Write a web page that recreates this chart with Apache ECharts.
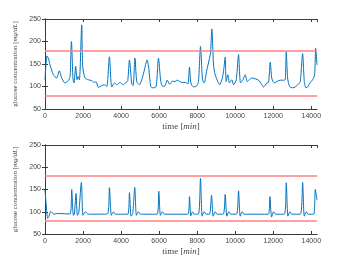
<!DOCTYPE html>
<html><head><meta charset="utf-8">
<script src="https://cdn.jsdelivr.net/npm/echarts@6/dist/echarts.min.js"></script>
<style>html,body{margin:0;padding:0;background:#fff}#c{width:350px;height:263px}</style>
</head><body><div id="c"></div>
<script>
const xTicks = [0, 2000, 4000, 6000, 8000, 10000, 12000, 14000];
const yTicks = [50, 100, 150, 200, 250];
const upperLimit = 180;
const lowerLimit = 80;

const topTimes = [0,105,175,263,440,615,754,877,1050,1228,1316,1390,1474,1526,1614,1684,1737,1807,1930,1982,2105,2280,2456,2596,2684,2807,2982,3123,3246,3386,3509,3649,3772,3947,4088,4263,4350,4439,4561,4631,4730,4825,4965,5088,5210,5370,5456,5561,5702,5842,5965,6088,6193,6316,6420,6560,6700,6842,6930,7018,7193,7368,7509,7596,7667,7807,7982,8070,8175,8281,8368,8509,8649,8702,8772,8860,8947,9088,9175,9298,9386,9474,9526,9614,9702,9825,9912,10053,10175,10281,10404,10526,10632,10737,10877,11053,11228,11368,11491,11667,11754,11842,11930,12070,12193,12368,12544,12632,12684,12754,12860,13018,13158,13333,13421,13544,13632,13719,13825,13947,14070,14175,14230,14300];
const topValues = [115,168,163,148,126,119,135,119,108,113,122,200,115,108,145,115,122,115,237,145,119,115,113,109,111,98,102,104,100,166,99,108,104,109,104,109,113,159,106,102,163,111,104,115,134,159,141,100,97,100,163,111,100,102,114,105,112,111,114,113,109,109,106,143,108,99,102,111,189,115,108,137,163,174,228,148,126,111,104,115,134,165,111,126,108,115,104,115,171,108,115,126,111,115,119,117,114,106,99,108,109,154,117,108,111,114,114,115,178,119,100,97,99,106,111,173,111,97,100,109,115,126,185,148];

const botTimes = [0,88,140,210,298,386,474,614,1316,1404,1491,1544,1632,1702,1772,1912,2000,2123,2228,2333,3281,3386,3491,3596,3702,4351,4439,4526,4614,4719,4807,4912,5018,5895,5982,6070,6175,6281,7509,7596,7667,7754,7842,8070,8175,8263,8368,8474,8649,8754,8842,8947,9053,9370,9474,9561,9667,9772,10070,10175,10263,10368,10474,11737,11825,11912,12018,12123,12579,12684,12772,12877,12982,13421,13544,13632,13737,13842,14123,14210,14300];
const botValues = [149,103,85,90,101,97,94.5,96,95,150,92,94.5,141,92,96,166,92,100,96,94.5,95,154,92,100,94.5,94.5,143,90,96,155,92,100,94.5,94.5,146,92,100,94.5,94.5,134,91,100,94.5,95,175,90,100,94.5,94.5,137,90,100,94.5,94.5,139,90,100,94.5,94.5,147,90,100,94.5,94.5,134,88,100,94.5,94.5,165,90,100,94.5,94.5,166,90,100,94.5,94.5,150,126];

const axisColor = '#3a3a3a';
const labelFont = {fontFamily: 'Liberation Sans, Arial, sans-serif', fontSize: 7, color: '#444'};
const serif = 'Liberation Serif, Times New Roman, serif';

function pairs(t, v) { return t.map((x, i) => [x, v[i]]); }

const grids = [
  {left: 45, top: 19, width: 272, height: 90},
  {left: 45, top: 145, width: 272, height: 89}
];

const xAxes = [], yAxes = [], series = [];
[0, 1].forEach(g => {
  const common = {type: 'value', gridIndex: g, min: 0, max: 14300, interval: 2000};
  xAxes.push(Object.assign({}, common, {
    position: 'bottom',
    axisLine: {show: true, lineStyle: {color: axisColor, width: 1}},
    axisTick: {show: true, inside: true, length: 3, lineStyle: {color: axisColor}},
    axisLabel: Object.assign({margin: 4, showMaxLabel: false, formatter: v => xTicks.includes(v) ? String(v) : ''}, labelFont),
    splitLine: {show: false},
    name: '{a|time [}{b|min}{a|]}',
    nameLocation: 'middle', nameGap: 13,
    nameTextStyle: {rich: {a: {fontFamily: serif, fontSize: 9, color: '#444'}, b: {fontFamily: serif, fontSize: 9, fontStyle: 'italic', color: '#444'}}}
  }));
  xAxes.push(Object.assign({}, common, {
    position: 'top',
    axisLine: {show: true, lineStyle: {color: axisColor, width: 1}},
    axisTick: {show: true, inside: true, length: 3, lineStyle: {color: axisColor}},
    axisLabel: {show: false}, splitLine: {show: false}
  }));
  const ycommon = {type: 'value', gridIndex: g, min: 50, max: 250, interval: 50};
  yAxes.push(Object.assign({}, ycommon, {
    position: 'left',
    axisLine: {show: true, lineStyle: {color: axisColor, width: 1}},
    axisTick: {show: true, inside: true, length: 3, lineStyle: {color: axisColor}},
    axisLabel: Object.assign({margin: 4, formatter: v => yTicks.includes(v) ? String(v) : ''}, labelFont),
    splitLine: {show: false},
    name: '{a|glucose concentration [}{b|mg/dL}{a|]}',
    nameLocation: 'middle', nameGap: 19, nameRotate: 90,
    nameTextStyle: {rich: {a: {fontFamily: serif, fontSize: 7, color: '#444'}, b: {fontFamily: serif, fontSize: 7, fontStyle: 'italic', color: '#444'}}}
  }));
  yAxes.push(Object.assign({}, ycommon, {
    position: 'right',
    axisLine: {show: true, lineStyle: {color: axisColor, width: 1}},
    axisTick: {show: true, inside: true, length: 3, lineStyle: {color: axisColor}},
    axisLabel: {show: false}, splitLine: {show: false}
  }));
  const t = g === 0 ? topTimes : botTimes;
  const v = g === 0 ? topValues : botValues;
  series.push({
    type: 'line', xAxisIndex: g * 2, yAxisIndex: g * 2,
    data: pairs(t, v), showSymbol: false, smooth: 0.25,
    lineStyle: {color: '#0072BD', width: 1}, z: 3,
    markLine: {
      silent: true, symbol: 'none', label: {show: false},
      lineStyle: {color: '#ff7f7f', width: 1.6, type: 'solid'},
      data: [{yAxis: upperLimit}, {yAxis: lowerLimit}]
    }
  });
});

const chart = echarts.init(document.getElementById('c'), null, {renderer: 'canvas'});
chart.setOption({
  animation: false,
  grid: grids,
  xAxis: xAxes,
  yAxis: yAxes,
  series: series
});
</script></body></html>
